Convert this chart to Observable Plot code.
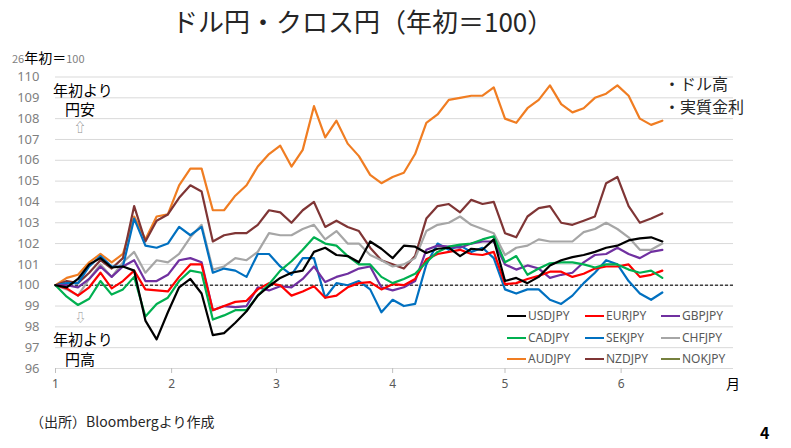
<!DOCTYPE html>
<html><head><meta charset="utf-8">
<script src="https://cdn.jsdelivr.net/npm/d3@7"></script>
<script src="https://cdn.jsdelivr.net/npm/@observablehq/plot@0.6"></script>
<style>
body{margin:0;background:#fff;font-family:"Noto Sans CJK JP","Noto Sans",sans-serif;}
#wrap{position:relative;width:791px;height:448px;overflow:hidden;background:#fff;}
#chart{position:absolute;left:0;top:0;}
.t{position:absolute;white-space:nowrap;line-height:1;}
.lg{position:absolute;white-space:nowrap;font-size:12px;color:#595959;line-height:1;display:flex;align-items:center;font-family:"Noto Sans","Noto Sans CJK JP",sans-serif;}
.lg i{display:inline-block;width:19px;height:2.5px;margin-right:2px;}
</style></head><body><div id="wrap"><div id="chart"></div></div>
<script>
const dates = ["2026-01-01","2026-01-04","2026-01-07","2026-01-10","2026-01-13","2026-01-16","2026-01-19","2026-01-22","2026-01-25","2026-01-28","2026-01-31",
"2026-02-03","2026-02-06","2026-02-09","2026-02-12","2026-02-15","2026-02-18","2026-02-21","2026-02-24","2026-02-27",
"2026-03-02","2026-03-05","2026-03-08","2026-03-11","2026-03-14","2026-03-17","2026-03-20","2026-03-23","2026-03-26","2026-03-29",
"2026-04-01","2026-04-04","2026-04-07","2026-04-10","2026-04-13","2026-04-16","2026-04-19","2026-04-22","2026-04-25","2026-04-28",
"2026-05-01","2026-05-04","2026-05-07","2026-05-10","2026-05-13","2026-05-16","2026-05-19","2026-05-22","2026-05-25","2026-05-28","2026-05-31",
"2026-06-03","2026-06-06","2026-06-09","2026-06-12"];

const audjpy = [100,100.35,100.5,101.1,101.5,101.1,101.5,103.3,102.2,103.3,103.4,104.8,105.6,105.6,103.6,103.6,104.3,104.8,105.7,106.3,
106.7,105.7,106.5,108.6,107.1,107.9,106.8,106.2,105.3,104.9,105.2,105.4,106.3,107.8,108.2,108.9,109,109.1,109.1,109.5,
108.0,107.8,108.5,108.9,109.6,108.7,108.3,108.5,109,109.2,109.6,109.1,108,107.7,107.9];
const nzdjpy = [100,100.2,100.1,100.6,101.2,100.8,101.3,103.8,102.1,103.1,103.4,104.2,104.8,104.5,102.1,102.4,102.5,102.5,102.9,103.6,
103.5,103,103.6,104,102.8,103.1,102.8,102.6,101.8,101.2,101,100.8,101.4,103.2,103.8,103.9,103.5,104.1,103.9,104,
102.5,102.3,103.3,103.7,103.8,103,102.9,103.1,103.3,104.9,105.2,103.8,103,103.2,103.45];
const chfjpy = [100,99.8,99.5,100.3,101,100.4,101.1,101.6,100.6,101.2,101.1,101.5,102.3,102.9,100.75,100.9,101.3,101.2,101.6,102.5,
102.4,102.4,102.7,102.9,102.2,102.6,102,102,101.45,101.2,100.9,101,101.3,102.6,102.9,103,103.3,102.9,102.7,102.5,
101.45,101.8,101.9,102.2,102.1,102.1,102.1,102.55,102.7,103,102.7,102.3,101.7,101.7,102];
const sekjpy = [100,100.1,100.1,100.9,101.4,100.9,100.9,103.2,101.9,101.8,102,102.8,102.4,102.8,100.6,100.8,100.7,100.4,101.5,101.5,
100.9,100.5,101.3,101.3,99.4,100.1,100,100.2,99.8,98.7,99.3,99,99.1,101,102,101.7,101.9,101.6,101.8,101.3,
99.8,99.6,99.8,99.8,99.3,99.1,99.5,100.1,100.6,101.2,101,100.2,99.6,99.3,99.65];
const gbpjpy = [100,100,99.9,100.3,100.9,100.4,100.9,101.2,100.2,100.2,100.5,101.2,101.3,101.1,98.8,99,98.95,99,99.9,99.75,
99.95,99.9,100.3,100.9,100.15,100.4,100.55,100.8,100.9,99.9,99.75,99.9,100.2,101.7,101.9,101.85,101.8,102,102.1,102.1,
101,100.75,100.95,100.8,100.35,100.5,100.6,101.1,101.45,101.5,101.8,101.5,101.3,101.6,101.7];
const eurjpy = [100,99.85,99.5,99.9,100.6,99.85,100.2,100.7,99.8,99.75,99.7,100.4,101,101,98.8,99,99.2,99.25,99.8,100.1,
100,99.5,99.7,99.95,99.4,99.5,99.9,100.1,100.15,99.8,100.05,100,100.3,101.25,101.5,101.6,101.7,101.5,101.45,101.6,
100.05,100.1,100.3,100.45,100.65,100.65,100.4,100.55,100.8,100.9,100.9,101,100.4,100.5,100.7];
const cadjpy = [100,99.45,99.05,99.35,100.2,99.55,99.8,100.4,98.5,99.1,99.4,100.2,100.7,100.6,98.35,98.55,98.8,98.8,99.5,100.05,
100.7,101.15,101.7,102.3,102,101.9,101.4,101,101,100.4,100.1,100.3,100.55,101.1,101.6,101.85,101.95,102,102.2,102.35,
101.1,101.4,100.5,100.8,101.05,101.1,101.1,101,100.85,101,101,100.75,100.6,100.7,100.35];
const usdjpy = [100,99.9,100.3,101,101.3,100.85,100.9,100.7,98.3,97.4,98.7,99.9,100.3,99.6,97.6,97.7,98.2,98.75,99.5,99.95,
100.35,100.6,100.7,101.6,101.8,101.45,101.4,101.1,102.1,101.75,101.3,101.9,101.85,101.55,101.75,101.8,101.4,101.75,101.7,102.2,
100.2,100.35,100.1,100.4,100.95,101.2,101.35,101.45,101.6,101.8,101.9,102.15,102.25,102.3,102.1];

const seriesNames = ["USDJPY","EURJPY","GBPJPY","CADJPY","SEKJPY","CHFJPY","AUDJPY","NZDJPY","NOKJPY"];
const seriesColors = ["#000000","#ff0000","#7030a0","#00b050","#0070c0","#a6a6a6","#f07d22","#7f3535","#76803e"];
const drawOrder = [["AUDJPY",audjpy],["NZDJPY",nzdjpy],["CHFJPY",chfjpy],["SEKJPY",sekjpy],["GBPJPY",gbpjpy],["EURJPY",eurjpy],["CADJPY",cadjpy],["USDJPY",usdjpy]];

const yTicks = [96,97,98,99,100,101,102,103,104,105,106,107,108,109,110];
const monthTicks = ["2026-01-01","2026-02-01","2026-03-01","2026-04-01","2026-05-01","2026-06-01"];
const monthLabels = ["1","2","3","4","5","6"];

const rows = [];
for (const [name, vals] of drawOrder) {
  vals.forEach((v, i) => rows.push({series: name, date: new Date(dates[i]), value: v}));
}
const mTicks = monthTicks.map(d => new Date(d));

const chart = Plot.plot({
  width: 791, height: 448,
  marginLeft: 55, marginRight: 58, marginTop: 76.5, marginBottom: 80,
  style: {fontFamily: '"Noto Sans","Noto Sans CJK JP",sans-serif', background: "transparent"},
  x: {type: "utc", domain: [new Date("2026-01-01"), new Date("2026-07-01")]},
  y: {domain: [96, 110]},
  color: {domain: seriesNames, range: seriesColors},
  marks: [
    Plot.ruleY(yTicks, {stroke: "#d9d9d9", strokeWidth: 1}),
    Plot.axisY({ticks: yTicks, tickSize: 0, tickPadding: 16, fontSize: 13, fill: "#7f7f7f", label: null}),
    Plot.axisX({ticks: mTicks, tickFormat: (d, i) => monthLabels[i], tickSize: 5, tickPadding: 6, stroke: "#bfbfbf", fill: "#595959", fontSize: 12, label: null}),
    Plot.ruleY([100], {stroke: "#404040", strokeWidth: 1.5, strokeDasharray: "3,2"}),
    Plot.line(rows, {x: "date", y: "value", z: "series", stroke: "series", strokeWidth: 2.2, strokeLinejoin: "round"})
  ]
});
document.getElementById("chart").append(chart);

const wrap = document.getElementById("wrap");
function addText(txt, left, top, size, color, extra) {
  const d = document.createElement("div");
  d.className = "t";
  d.innerHTML = txt;
  d.style.left = left + "px"; d.style.top = top + "px";
  d.style.fontSize = size + "px"; d.style.color = color;
  if (extra) Object.assign(d.style, extra);
  wrap.append(d);
}
addText("ドル円・クロス円（年初＝100）", 172, 8, 26, "#262626");
addText('<span style="font-size:11px;color:#7f7f7f">26</span>年初＝<span style="font-size:11px;color:#7f7f7f">100</span>', 12, 50, 14, "#000");
addText("年初より", 53, 82, 15, "#000");
addText("円安", 65, 101, 15, "#000");
addText("⇧", 74, 121, 12, "#8c8c8c");
addText("⇩", 75, 312, 11, "#8c8c8c");
addText("年初より", 53, 331, 15, "#000");
addText("円高", 65, 351, 15, "#000");
addText("・ドル高", 664, 75, 16, "#262626");
addText("・実質金利", 664, 98, 16, "#262626");
addText("月", 726, 376, 14, "#000");
addText("（出所）Bloombergより作成", 30, 414, 14, "#262626");
addText("4", 760, 424, 16, "#000", {fontWeight: "bold"});

const legendPos = [[507,310],[585,310],[661,310],[507,332],[585,332],[661,332],[507,353],[585,353],[661,353]];
seriesNames.forEach((n, i) => {
  const d = document.createElement("div");
  d.className = "lg";
  d.style.left = legendPos[i][0] + "px"; d.style.top = legendPos[i][1] + "px";
  d.innerHTML = `<i style="background:${seriesColors[i]}"></i>${n}`;
  wrap.append(d);
});
</script></body></html>
